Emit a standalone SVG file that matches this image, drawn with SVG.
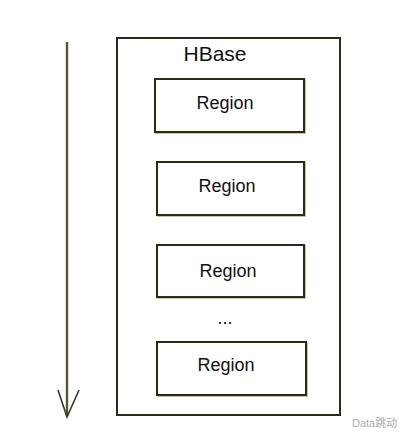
<svg xmlns="http://www.w3.org/2000/svg" width="408" height="440" viewBox="0 0 408 440">
<style>
.box{fill:#fff;stroke:#2b2a1c;stroke-width:2}
.sh{fill:none;stroke:#c9c29a;stroke-width:2}
.lbl{font-family:"Liberation Sans",Arial,sans-serif;font-size:18px;fill:#111;text-anchor:middle}
.hb{font-size:21px}
.wm{font-family:"Liberation Sans","Noto Sans CJK SC",sans-serif;font-size:11px;fill:#aaa}
</style>
<rect width="408" height="440" fill="#fff"/>
<g id="connectors">
<line x1="67" y1="42" x2="67" y2="416" stroke="#c9c29a" stroke-width="3"/>
<line x1="67" y1="42" x2="67" y2="416" stroke="#3a3826" stroke-width="1.6"/>
<polyline points="58,390 67,417 79,390" fill="none" stroke="#3a3826" stroke-width="1.6"/>
</g>
<g id="hbase">
<rect class="box" x="117" y="38" width="223" height="377"/>
<text class="lbl hb" x="215" y="61">HBase</text>
</g>
<g id="region1">
<rect class="sh" x="156" y="80" width="149" height="53"/>
<rect class="box" x="155" y="79" width="149" height="53"/>
<text class="lbl" x="225" y="109">Region</text>
</g>
<g id="region2">
<rect class="sh" x="158" y="163" width="147" height="53"/>
<rect class="box" x="157" y="162" width="147" height="53"/>
<text class="lbl" x="227" y="192">Region</text>
</g>
<g id="region3">
<rect class="sh" x="158" y="246" width="147" height="52"/>
<rect class="box" x="157" y="245" width="147" height="52"/>
<text class="lbl" x="228" y="277">Region</text>
</g>
<g id="ellipsis">
<text class="lbl" x="225" y="324">...</text>
</g>
<g id="region4">
<rect class="sh" x="158" y="343" width="149" height="53"/>
<rect class="box" x="157" y="342" width="149" height="53"/>
<text class="lbl" x="226" y="371">Region</text>
</g>
<g id="watermark">
<text class="wm" x="352" y="427">Data跳动</text>
</g>
</svg>
